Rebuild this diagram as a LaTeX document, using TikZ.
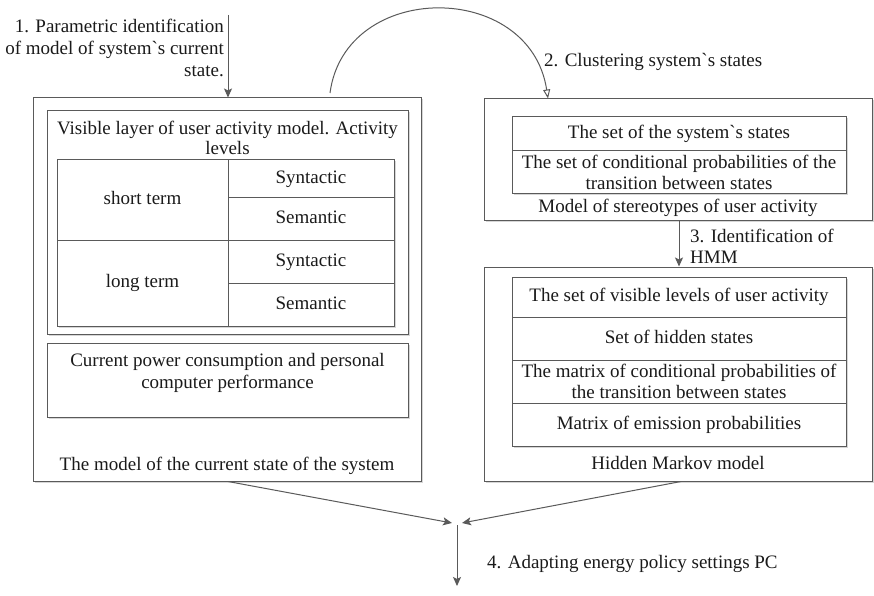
\documentclass[tikz,border=0pt]{standalone}
\usepackage{fontspec}
\setmainfont{Liberation Serif}[Ligatures=TeXOff]
\usetikzlibrary{arrows.meta,shadows}
\definecolor{lc}{HTML}{5A5A5A}
\definecolor{tc}{HTML}{1A1A1A}
\begin{document}
\begin{tikzpicture}[x=1pt,y=-1pt,
  every node/.style={font=\fontsize{19}{21}\selectfont, text=tc, inner sep=0pt},
  box/.style={draw=lc, line width=1pt, fill=white,
    drop shadow={shadow xshift=1.5pt, shadow yshift=-1.5pt, fill=black!16, opacity=1}},
  cell/.style={box, text height=13pt, text depth=4pt},
  mcell/.style={box, align=center},
  conn/.style={draw=lc, line width=1pt},
  tip/.style={-{Stealth[length=9pt,width=8pt,inset=2pt]}}
]
\useasboundingbox[fill=white] (0,0) rectangle (874,596);

% left model
\node[box, minimum width=388pt, minimum height=383pt] (L) at (227,289.5) {};
\node[box, minimum width=361pt, minimum height=223pt] (V) at (227.5,222.5) {};
\node[align=center, font=\fontsize{19}{20}\selectfont] (Vt) at (227.5,138.4)
  {Visible layer of user activity model. Activity\\levels};
\node[cell, minimum width=171pt, minimum height=80pt] (st) at (142.5,200) {short term};
\node[cell, minimum width=171pt, minimum height=86pt] (lt) at (142.5,283) {long term};
\node[cell, minimum width=166pt, minimum height=37pt] (syn1) at (311,178.5) {Syntactic};
\node[cell, minimum width=166pt, minimum height=43pt] (sem1) at (311,218.5) {Semantic};
\node[cell, minimum width=166pt, minimum height=43pt] (syn2) at (311,261.5) {Syntactic};
\node[cell, minimum width=166pt, minimum height=43pt] (sem2) at (311,304.5) {Semantic};
\node[box, minimum width=361pt, minimum height=74pt] (P) at (227.5,380) {};
\node[align=center, anchor=north, font=\fontsize{19}{22}\selectfont] (Pt) at (227.5,352.7)
  {Current power consumption and personal\\computer performance};
\node[anchor=base] (Lc) at (227,470) {The model of the current state of the system};

% right top model
\node[box, minimum width=388pt, minimum height=121pt] (R1) at (678,159.5) {};
\node[cell, minimum width=334pt, minimum height=34pt] (ra) at (679,134) {The set of the system`s states};
\node[mcell, minimum width=334pt, minimum height=42pt] (rb) at (679,172)
  {The set of conditional probabilities of the\\transition between states};
\node[anchor=base] (R1c) at (678,212) {Model of stereotypes of user activity};

% right bottom model
\node[box, minimum width=388pt, minimum height=214pt] (R2) at (678,374) {};
\node[cell, minimum width=334pt, minimum height=40pt] (h1) at (679,297) {The set of visible levels of user activity};
\node[cell, minimum width=334pt, minimum height=43pt] (h2) at (679,338.5) {Set of hidden states};
\node[mcell, minimum width=334pt, minimum height=43pt] (h3) at (679,381.5)
  {The matrix of conditional probabilities of\\the transition between states};
\node[cell, minimum width=334pt, minimum height=43pt] (h4) at (679,424.5) {Matrix of emission probabilities};
\node[anchor=base] (R2c) at (678,469) {Hidden Markov model};

% step 1
\node[align=right, anchor=north east, font=\fontsize{19}{22}\selectfont] (s1) at (224,18.7)
  {1. Parametric identification\\of model of system`s current\\state.};
\coordinate (a1) at (228,15);
\draw[conn, tip] (a1) -- (a1 |- L.north);

% step 2
\coordinate (arcS) at (330,93);
\coordinate (arcE) at (548,98.5);
\draw[conn, -{Triangle[open,length=9pt,width=7pt]}] (arcS) .. controls (345,-20) and (530,-20) .. (arcE);
\node[anchor=base west] (s2) at (544,67) {2. Clustering system`s states};

% step 3
\coordinate (a3) at (679,0);
\draw[conn, tip] (a3 |- R1.south) -- (a3 |- R2.north);
\node[align=left, anchor=north west, font=\fontsize{19}{21}\selectfont] (s3) at (690,229)
  {3. Identification of\\HMM};

% step 4
\coordinate (JL) at (452,523);
\coordinate (JR) at (462,523);
\coordinate (J) at (457,525);
\coordinate (E) at (457,586);
\draw[conn, tip] ([xshift=1pt]L.south) -- (JL);
\draw[conn, tip] ([xshift=3pt]R2.south) -- (JR);
\draw[conn, tip] (J) -- (E);
\node[anchor=base west] (s4) at (487,568) {4. Adapting energy policy settings PC};
\end{tikzpicture}
\end{document}
